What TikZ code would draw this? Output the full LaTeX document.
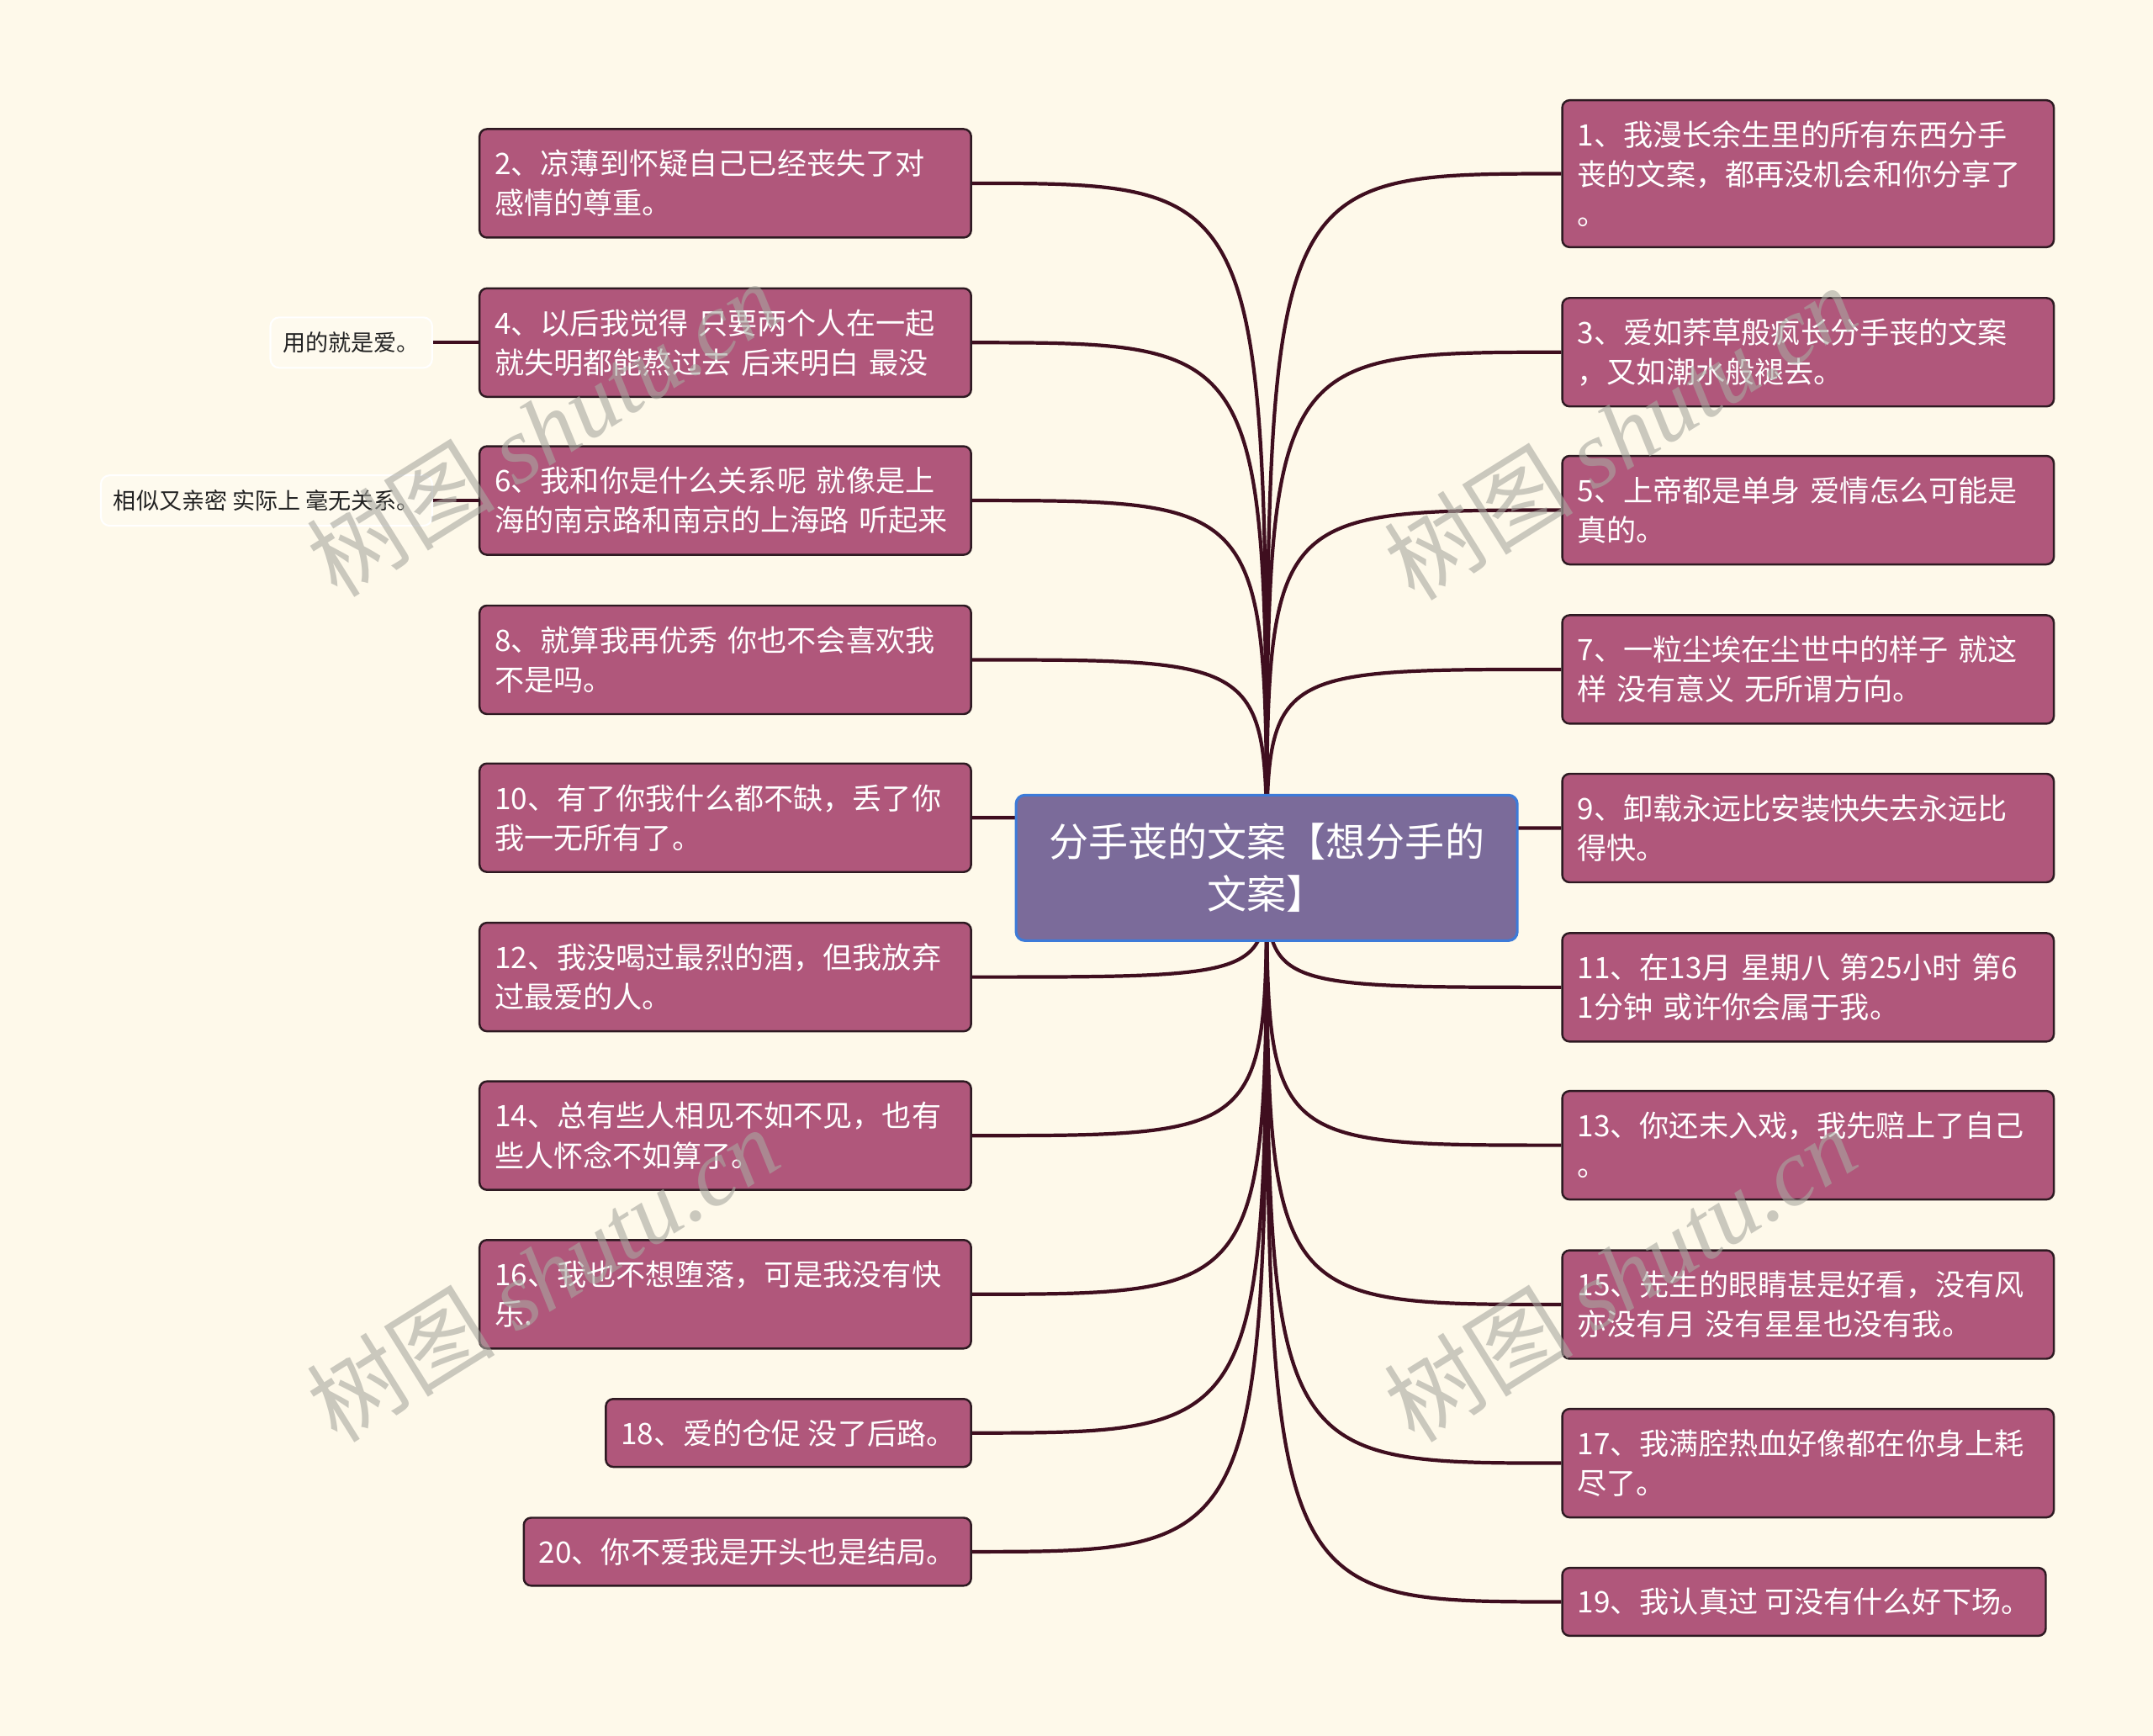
\documentclass[tikz,border=0pt]{standalone}
\usepackage{fontspec}
\setmainfont{Noto Sans CJK SC}
\newfontfamily\wmfont{Liberation Serif}
\usetikzlibrary{positioning}

\definecolor{bgcream}{HTML}{FEF9EA}
\definecolor{leaffill}{HTML}{B0577B}
\definecolor{leafline}{HTML}{2E1A22}
\definecolor{rootfill}{HTML}{7B6B9A}
\definecolor{rootline}{HTML}{3D7BD9}
\definecolor{edgecol}{HTML}{3F0E1F}
\definecolor{notefill}{HTML}{FEFAEE}
\definecolor{notetext}{HTML}{222222}
\definecolor{wmgray}{HTML}{A8A8A0}

\pgfdeclarelayer{bg}
\pgfdeclarelayer{edges}
\pgfsetlayers{bg,edges,main}

\tikzset{
    leaf/.style={draw=leafline, line width=0.7pt, fill=leaffill, rounded corners=2.5pt,
        text=white, font=\fontsize{10}{13.4}\selectfont, align=left,
        inner xsep=0.18cm, inner ysep=0pt},
    leaftwo/.style={leaf, text width=5.485cm, minimum height=1.29cm},
    leafthree/.style={leaf, text width=5.485cm, minimum height=1.747cm},
    leafone/.style={leaf, minimum height=0.808cm},
    rootbox/.style={draw=rootline, line width=0.9pt, fill=rootfill, rounded corners=3pt,
        text=white, font=\fontsize{13.4}{17.6}\selectfont, align=center,
        minimum width=5.96cm, minimum height=1.73cm},
    notebox/.style={draw=white, line width=0.6pt, fill=notefill, rounded corners=3pt,
        text=notetext, font=\fontsize{7.7}{9.3}\selectfont,
        inner xsep=0.15cm, minimum height=0.6cm},
    link/.style={draw=edgecol, line width=1.2pt},
    wmtext/.style={text=wmgray, text opacity=0.6, font=\fontsize{32}{32}\selectfont, rotate=32}
}

\begin{document}
\begin{tikzpicture}[x=0.16327mm, y=-0.16327mm]
    \begin{pgfonlayer}{bg}
        \fill[bgcream] (0,0) rectangle (1568,1264);
    \end{pgfonlayer}
    \useasboundingbox (0,0) rectangle (1568,1264);

    % centre
    \node[rootbox] (root) at (922.5,632) {分手丧的文案【想分手的\\文案】};

    % right side
    \node[leafthree, anchor=west] (b1) at (1137,126.5) {1、我漫长余生里的所有东西分手\\丧的文案，都再没机会和你分享了\\。};
    \node[leaftwo, anchor=west] (b3) at (1137,256.5) {3、爱如荞草般疯长分手丧的文案\\，又如潮水般褪去。};
    \node[leaftwo, anchor=west] (b5) at (1137,371.5) {5、上帝都是单身 爱情怎么可能是\\真的。};
    \node[leaftwo, anchor=west] (b7) at (1137,487.5) {7、一粒尘埃在尘世中的样子 就这\\样 没有意义 无所谓方向。};
    \node[leaftwo, anchor=west] (b9) at (1137,603) {9、卸载永远比安装快失去永远比\\得快。};
    \node[leaftwo, anchor=west] (b11) at (1137,719) {11、在13月 星期八 第25小时 第6\\1分钟 或许你会属于我。};
    \node[leaftwo, anchor=west] (b13) at (1137,834) {13、你还未入戏，我先赔上了自己\\。};
    \node[leaftwo, anchor=west] (b15) at (1137,950) {15、先生的眼睛甚是好看，没有风\\亦没有月 没有星星也没有我。};
    \node[leaftwo, anchor=west] (b17) at (1137,1065.5) {17、我满腔热血好像都在你身上耗\\尽了。};
    \node[leafone, anchor=west] (b19) at (1137,1166.5) {19、我认真过 可没有什么好下场。};

    % left side
    \node[leaftwo, anchor=east] (b2) at (708,133.5) {2、凉薄到怀疑自己已经丧失了对\\感情的尊重。};
    \node[leaftwo, anchor=east] (b4) at (708,249.5) {4、以后我觉得 只要两个人在一起\\就失明都能熬过去 后来明白 最没};
    \node[leaftwo, anchor=east] (b6) at (708,364.5) {6、我和你是什么关系呢 就像是上\\海的南京路和南京的上海路 听起来};
    \node[leaftwo, anchor=east] (b8) at (708,480.5) {8、就算我再优秀 你也不会喜欢我\\不是吗。};
    \node[leaftwo, anchor=east] (b10) at (708,595.5) {10、有了你我什么都不缺，丢了你\\我一无所有了。};
    \node[leaftwo, anchor=east] (b12) at (708,711.5) {12、我没喝过最烈的酒，但我放弃\\过最爱的人。};
    \node[leaftwo, anchor=east] (b14) at (708,827) {14、总有些人相见不如不见，也有\\些人怀念不如算了。};
    \node[leaftwo, anchor=east] (b16) at (708,942.5) {16、我也不想堕落，可是我没有快\\乐.};
    \node[leafone, anchor=east] (b18) at (708,1043.5) {18、爱的仓促 没了后路。};
    \node[leafone, anchor=east] (b20) at (708,1130) {20、你不爱我是开头也是结局。};

    % notes
    \node[notebox, left=0.54cm of b4] (n4) {用的就是爱。};
    \node[notebox, left=0.54cm of b6] (n6) {相似又亲密 实际上 毫无关系。};

    \begin{pgfonlayer}{edges}
        \draw[link] (root.center) .. controls (root.center |- b1.west) .. (b1.west);
        \draw[link] (root.center) .. controls (root.center |- b3.west) .. (b3.west);
        \draw[link] (root.center) .. controls (root.center |- b5.west) .. (b5.west);
        \draw[link] (root.center) .. controls (root.center |- b7.west) .. (b7.west);
        \draw[link] (root.center) .. controls (root.center |- b9.west) .. (b9.west);
        \draw[link] (root.center) .. controls (root.center |- b11.west) .. (b11.west);
        \draw[link] (root.center) .. controls (root.center |- b13.west) .. (b13.west);
        \draw[link] (root.center) .. controls (root.center |- b15.west) .. (b15.west);
        \draw[link] (root.center) .. controls (root.center |- b17.west) .. (b17.west);
        \draw[link] (root.center) .. controls (root.center |- b19.west) .. (b19.west);

        \draw[link] (root.center) .. controls (root.center |- b2.east) .. (b2.east);
        \draw[link] (root.center) .. controls (root.center |- b4.east) .. (b4.east);
        \draw[link] (root.center) .. controls (root.center |- b6.east) .. (b6.east);
        \draw[link] (root.center) .. controls (root.center |- b8.east) .. (b8.east);
        \draw[link] (root.center) .. controls (root.center |- b10.east) .. (b10.east);
        \draw[link] (root.center) .. controls (root.center |- b12.east) .. (b12.east);
        \draw[link] (root.center) .. controls (root.center |- b14.east) .. (b14.east);
        \draw[link] (root.center) .. controls (root.center |- b16.east) .. (b16.east);
        \draw[link] (root.center) .. controls (root.center |- b18.east) .. (b18.east);
        \draw[link] (root.center) .. controls (root.center |- b20.east) .. (b20.east);

        \draw[link] (n4.east) -- (b4.west);
        \draw[link] (n6.east) -- (b6.west);
    \end{pgfonlayer}

    % watermarks
    \node[wmtext] (wm1) at (395,312) {树图 {\wmfont\itshape shutu.cn}};
    \node[wmtext] (wm2) at (1180,315) {树图 {\wmfont\itshape shutu.cn}};
    \node[wmtext] (wm3) at (395,928) {树图 {\wmfont\itshape shutu.cn}};
    \node[wmtext] (wm4) at (1180,928) {树图 {\wmfont\itshape shutu.cn}};
\end{tikzpicture}
\end{document}
